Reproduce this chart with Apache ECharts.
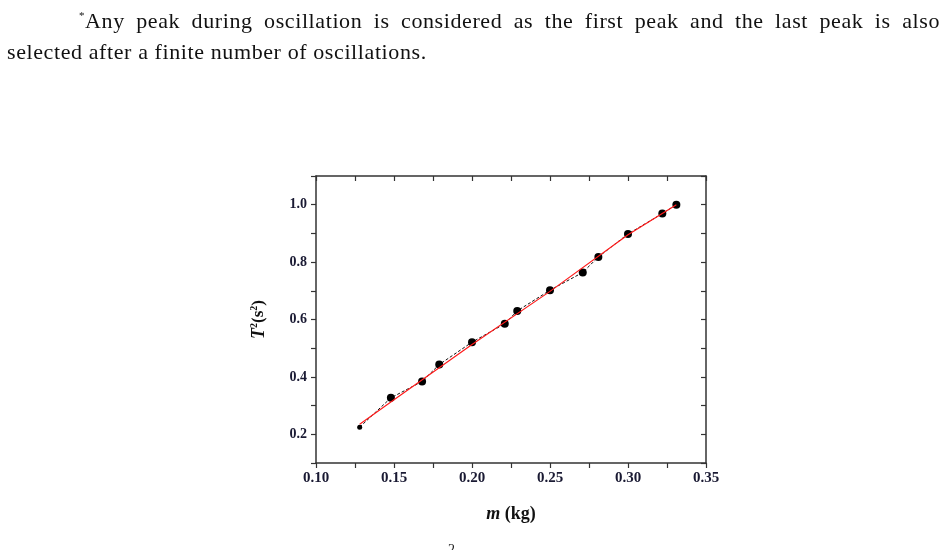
<!DOCTYPE html>
<html>
<head>
<meta charset="utf-8">
<script src="https://cdn.jsdelivr.net/npm/echarts@6/dist/echarts.min.js"></script>
<style>
	html, body { margin: 0; padding: 0; background: #fff; }
	#wrap { position: relative; width: 947px; height: 550px; overflow: hidden; }
	#chart { position: absolute; left: 0; top: 0; width: 947px; height: 550px; }
	#note {
		position: absolute; left: 7px; top: 5px; width: 933px;
		font-family: 'Liberation Serif', serif; font-size: 22px; line-height: 31px;
		letter-spacing: 0.6px; color: #111; text-align: justify; text-indent: 72px;
	}
	#note sup { font-size: 11px; vertical-align: 9px; line-height: 0; }
</style>
</head>
<body>
<div id="wrap">
	<div id="chart"></div>
	<div id="note"><sup>*</sup>Any peak during oscillation is considered as the first peak and the last peak is also selected after a finite number of oscillations.</div>
</div>
<script>
	// mass (kg) and period squared (s^2)
	const massKg = [0.128, 0.148, 0.168, 0.179, 0.200, 0.221, 0.229, 0.250, 0.271, 0.281, 0.300, 0.322, 0.331]
	const periodSq = [0.225, 0.327, 0.384, 0.443, 0.521, 0.585, 0.630, 0.702, 0.764, 0.818, 0.898, 0.969, 1.000]
	// fitted curve (red)
	const fitM = [0.128, 0.150, 0.200, 0.250, 0.300, 0.331]
	const fitT = [0.235, 0.320, 0.513, 0.698, 0.895, 1.000]

	const points = massKg.map((m, i) => [m, periodSq[i]])
	const fitLine = fitM.map((m, i) => [m, fitT[i]])

	const labelColor = '#1a1a33'
	const axisColor = '#333'
	const serif = 'Liberation Serif'

	const option = {
		animation: false,
		backgroundColor: '#fff',
		grid: { left: 316, right: 241, top: 176, bottom: 87 },
		xAxis: [
			{
				type: 'value',
				min: 0.1,
				max: 0.35,
				interval: 0.025,
				position: 'bottom',
				name: '{i|m}{n| (kg)}',
				nameLocation: 'middle',
				nameGap: 42,
				nameTextStyle: {
					rich: {
						i: { fontFamily: serif, fontStyle: 'italic', fontWeight: 'bold', fontSize: 18, color: '#111' },
						n: { fontFamily: serif, fontWeight: 'bold', fontSize: 18, color: '#111' }
					}
				},
				axisLine: { onZero: false, lineStyle: { color: axisColor, width: 1.5 } },
				axisTick: { inside: false, length: 5, lineStyle: { color: axisColor, width: 1.2 } },
				axisLabel: {
					margin: 8,
					fontFamily: serif,
					fontWeight: 'bold',
					fontSize: 15,
					color: labelColor,
					formatter: (v) => (Math.round(v * 1000) % 50 === 0 ? v.toFixed(2) : '')
				},
				splitLine: { show: false }
			},
			{
				type: 'value',
				min: 0.1,
				max: 0.35,
				interval: 0.025,
				position: 'top',
				axisLine: { onZero: false, lineStyle: { color: axisColor, width: 1.5 } },
				axisTick: { inside: true, length: 5, lineStyle: { color: axisColor, width: 1.2 } },
				axisLabel: { show: false },
				splitLine: { show: false }
			}
		],
		yAxis: [
			{
				type: 'value',
				min: 0.1,
				max: 1.1,
				interval: 0.1,
				position: 'left',
				name: '{i|T}{s|2}{n|(s}{s|2}{n|)}',
				nameLocation: 'middle',
				nameRotate: 90,
				nameGap: 47,
				nameTextStyle: {
					rich: {
						i: { fontFamily: serif, fontStyle: 'italic', fontWeight: 'bold', fontSize: 18, color: '#111', lineHeight: 20 },
						n: { fontFamily: serif, fontWeight: 'bold', fontSize: 17, color: '#111', lineHeight: 20 },
						s: { fontFamily: serif, fontWeight: 'bold', fontSize: 10, color: '#111', lineHeight: 20, verticalAlign: 'top' }
					}
				},
				axisLine: { onZero: false, lineStyle: { color: axisColor, width: 1.5 } },
				axisTick: { inside: false, length: 5, lineStyle: { color: axisColor, width: 1.2 } },
				axisLabel: {
					margin: 9,
					fontFamily: serif,
					fontWeight: 'bold',
					fontSize: 14,
					color: labelColor,
					formatter: (v) => {
						const k = Math.round(v * 10)
						return k % 2 === 0 && k >= 2 && k <= 10 ? v.toFixed(1) : ''
					}
				},
				splitLine: { show: false }
			},
			{
				type: 'value',
				min: 0.1,
				max: 1.1,
				interval: 0.1,
				position: 'right',
				axisLine: { onZero: false, lineStyle: { color: axisColor, width: 1.5 } },
				axisTick: { inside: true, length: 5, lineStyle: { color: axisColor, width: 1.2 } },
				axisLabel: { show: false },
				splitLine: { show: false }
			}
		],
		series: [
			{
				// thin black line joining the measured points
				type: 'line',
				data: points,
				showSymbol: false,
				symbol: 'none',
				lineStyle: { color: '#111', width: 1, type: [3, 2] },
				z: 2
			},
			{
				type: 'scatter',
				data: points,
				symbol: 'circle',
				symbolSize: (val, params) => (params.dataIndex === 0 ? 5 : 8),
				itemStyle: { color: '#000', opacity: 1 },
				z: 3
			},
			{
				// fitted curve
				type: 'line',
				data: fitLine,
				symbol: 'none',
				lineStyle: { color: '#ff1a1a', width: 1.2 },
				z: 4
			}
		],
		graphic: [
			{
				type: 'text',
				left: 448,
				top: 543,
				style: { text: '2', font: '14px "Liberation Serif"', fill: '#222' }
			}
		]
	}

	let chart = echarts.init(document.getElementById('chart'))
	chart.setOption(option)
	window.onresize = () => {
		chart.resize()
	}
</script>
</body>
</html>
